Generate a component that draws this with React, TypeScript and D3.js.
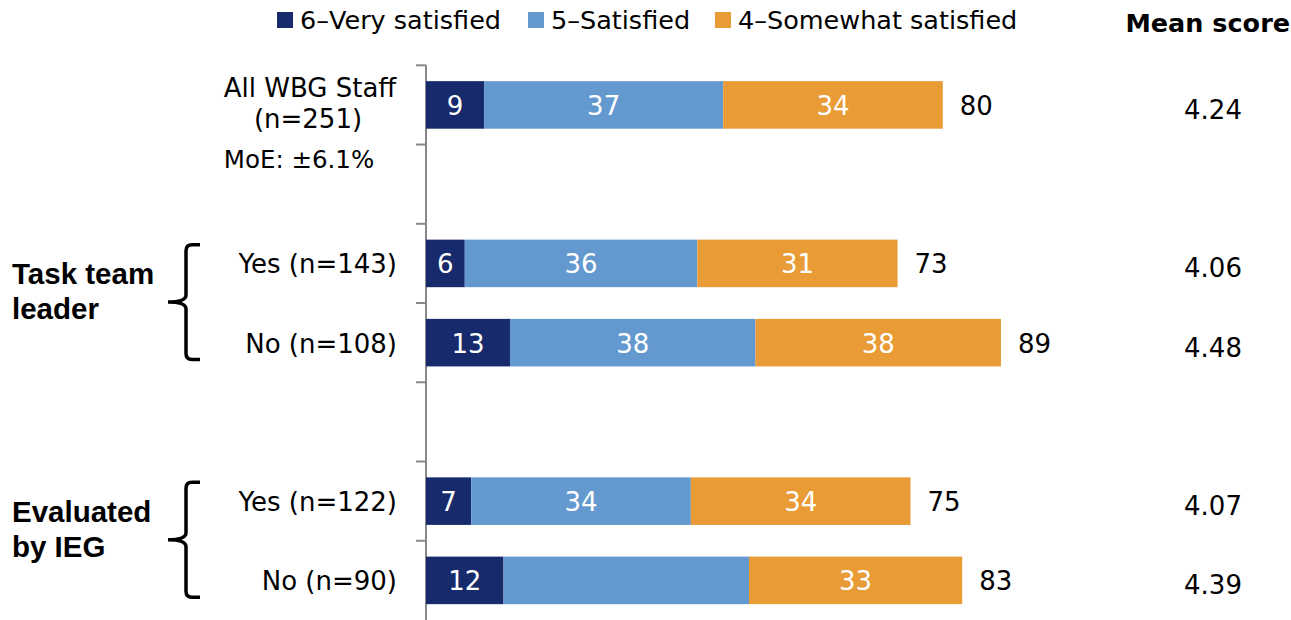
import React from "react";
import * as d3 from "d3";

// ---- data ----
const slotKeys = ["all", "gap1", "ttlYes", "ttlNo", "gap2", "iegYes", "iegNo"];
const rowKeys = ["all", "ttlYes", "ttlNo", "iegYes", "iegNo"];
const rowLabels = ["All WBG Staff|(n=251)", "Yes (n=143)", "No (n=108)", "Yes (n=122)", "No (n=90)"];
const veryValues = [9, 6, 13, 7, 12];
const satValues = [37, 36, 38, 34, 38];
const somewhatValues = [34, 31, 38, 34, 33];
const satLabelShown = [true, true, true, true, false];
const totals = [80, 73, 89, 75, 83];
const means = ["4.24", "4.06", "4.48", "4.07", "4.39"];
const seriesNames = ["6\u2013Very satisfied", "5\u2013Satisfied", "4\u2013Somewhat satisfied"];
const seriesColors = ["#172A6C", "#6499CF", "#E99B36"];
const groups = [
  { lines: ["Task team", "leader"], from: "ttlYes", to: "ttlNo" },
  { lines: ["Evaluated", "by IEG"], from: "iegYes", to: "iegNo" },
];
const moeText = "MoE: \u00b16.1%";
const meanTitle = "Mean score";

const W = 1291;
const H = 620;
const FONT = "'DejaVu Sans', Verdana, sans-serif";
const BOLD = "'Liberation Sans', Arial, sans-serif";

export default function App() {
  const y = d3.scaleBand<string>().domain(slotKeys).range([65.3, 620]).paddingInner(0.4).paddingOuter(0.2);
  const x = d3.scaleLinear().domain([0, 100]).range([426, 1072]);
  const step = y.step();
  const bw = y.bandwidth();
  const x0 = x(0);

  const stacks = rowKeys.map((k, i) => {
    const vals = [veryValues[i], satValues[i], somewhatValues[i]];
    let acc = 0;
    return vals.map((v, j) => {
      const s = { start: acc, end: acc + v, v, j, show: j === 1 ? satLabelShown[i] : true };
      acc += v;
      return s;
    });
  });

  const boundaries = d3.range(slotKeys.length + 1).map((i) => 65.3 + i * step);

  const bracePath = (top: number, bot: number, xv: number, xr: number, xt: number) => {
    const mid = (top + bot) / 2;
    const r = 6;
    return `M${xr},${top} L${xv + r},${top} Q${xv},${top} ${xv},${top + r} L${xv},${mid - 7} Q${xv},${mid} ${xt},${mid} Q${xv},${mid} ${xv},${mid + 7} L${xv},${bot - r} Q${xv},${bot} ${xv + r},${bot} L${xr},${bot}`;
  };

  const legendX = [277, 528, 715];
  const FS = 26;

  return (
    <svg width={W} height={H} style={{ position: "absolute", left: 0, top: 0, background: "#fff" }}>
      {/* legend */}
      {seriesNames.map((n, i) => (
        <g key={n}>
          <rect x={legendX[i]} y={12} width={16} height={16} fill={seriesColors[i]} />
          <text x={legendX[i] + 23} y={29} fontFamily={FONT} fontSize={25.5} fill="#000">
            {n}
          </text>
        </g>
      ))}
      <text x={1290} y={32} textAnchor="end" fontFamily={FONT} fontWeight="bold" fontSize={25.5} fill="#000">
        {meanTitle}
      </text>

      {/* axis */}
      <line x1={x0} x2={x0} y1={65.3} y2={H} stroke="#888" strokeWidth={2} />
      {boundaries.slice(0, -1).map((b, i) => (
        <line key={i} x1={416} x2={x0} y1={b} y2={b} stroke="#888" strokeWidth={2} />
      ))}

      {/* bars */}
      {rowKeys.map((k, i) => {
        const top = y(k)!;
        const cy = top + bw / 2;
        return (
          <g key={k}>
            {stacks[i].map((s) => (
              <g key={s.j}>
                <rect x={x(s.start)} y={top} width={x(s.end) - x(s.start)} height={bw} fill={seriesColors[s.j]} />
                {s.show && (
                  <text x={(x(s.start) + x(s.end)) / 2} y={cy + 10} textAnchor="middle" fontFamily={FONT} fontSize={FS} fill="#fff">
                    {s.v}
                  </text>
                )}
              </g>
            ))}
            <text x={x(totals[i]) + 17} y={cy + 10} fontFamily={FONT} fontSize={FS} fill="#000">
              {totals[i]}
            </text>
            <text x={1213} y={cy + 14} textAnchor="middle" fontFamily={FONT} fontSize={FS} fill="#000">
              {means[i]}
            </text>
          </g>
        );
      })}

      {/* row labels */}
      {rowKeys.map((k, i) => {
        const cy = y(k)! + bw / 2;
        const parts = rowLabels[i].split("|");
        if (parts.length > 1) {
          return (
            <g key={k}>
              <text x={310} y={97} textAnchor="middle" fontFamily={FONT} fontSize={FS} fill="#000">{parts[0]}</text>
              <text x={308} y={128} textAnchor="middle" fontFamily={FONT} fontSize={FS} fill="#000">{parts[1]}</text>
              <text x={299} y={168} textAnchor="middle" fontFamily={FONT} fontSize={24.5} fill="#000">{moeText}</text>
            </g>
          );
        }
        return (
          <text key={k} x={397} y={cy + 10} textAnchor="end" fontFamily={FONT} fontSize={FS} fill="#000">
            {parts[0]}
          </text>
        );
      })}

      {/* groups with braces */}
      {groups.map((g) => {
        const top = y(g.from)! + 5;
        const bot = y(g.to)! + bw - 7;
        const mid = (top + bot) / 2;
        return (
          <g key={g.lines[0]}>
            <path d={bracePath(top, bot, 186, 200, 168)} fill="none" stroke="#000" strokeWidth={3.5} />
            <text x={12} y={mid - 18} fontFamily={BOLD} fontWeight="bold" fontSize={29.5} fill="#000">{g.lines[0]}</text>
            <text x={12} y={mid + 17} fontFamily={BOLD} fontWeight="bold" fontSize={29.5} fill="#000">{g.lines[1]}</text>
          </g>
        );
      })}
    </svg>
  );
}
